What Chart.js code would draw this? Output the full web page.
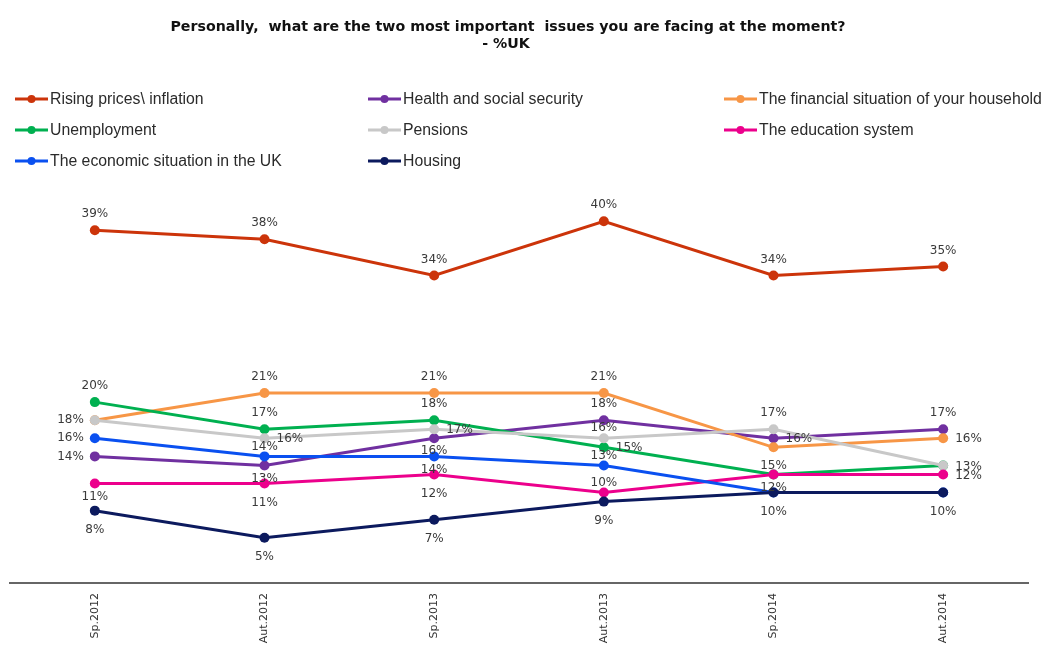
<!DOCTYPE html>
<html lang="en">
<head>
<meta charset="UTF-8">
<title>Most important issues - %UK</title>
<script src="https://cdn.jsdelivr.net/npm/chart.js"></script>
<style>
  html, body { margin: 0; padding: 0; background: #fff; overflow: hidden; }
  #issuesChart { display: block; }
</style>
</head>
<body>
<canvas id="issuesChart" width="1055" height="665"></canvas>
<script>
// Survey waves and % of UK respondents naming each issue
const waves = ['Sp.2012', 'Aut.2012', 'Sp.2013', 'Aut.2013', 'Sp.2014', 'Aut.2014'];

const risingPrices      = [39, 38, 34, 40, 34, 35];
const healthSocial      = [14, 13, 16, 18, 16, 17];
const householdFinances = [18, 21, 21, 21, 15, 16];
const unemployment      = [20, 17, 18, 15, 12, 13];
const pensions          = [18, 16, 17, 16, 17, 13];
const education         = [11, 11, 12, 10, 12, 12];
const ukEconomy         = [16, 14, 14, 13, 10, 10];
const housing           = [8, 5, 7, 9, 10, 10];

// where each value label sits:
// a = above, c = just above, b = below, d = just below, l = left, r = right, '' = none
const risingPricesLbl      = ['a', 'a', 'a', 'a', 'a', 'a'];
const healthSocialLbl      = ['l', 'd', 'd', 'a', 'r', 'a'];
const householdFinancesLbl = ['',  'a', 'a', 'a', 'b', 'r'];
const unemploymentLbl      = ['a', 'a', 'a', 'r', '',  ''];
const pensionsLbl          = ['l', 'r', 'r', 'c', 'a', 'r'];
const educationLbl         = ['d', 'b', 'b', 'c', 'd', 'r'];
const ukEconomyLbl         = ['l', 'c', 'd', 'c', '',  ''];
const housingLbl           = ['b', 'b', 'b', 'b', 'b', 'b'];

const series = [
  { label: 'Rising prices\\ inflation', data: risingPrices, color: '#cc340a', lbl: risingPricesLbl },
  { label: 'Health and social security', data: healthSocial, color: '#7030a0', lbl: healthSocialLbl },
  { label: 'The financial situation of your household', data: householdFinances, color: '#f79646', lbl: householdFinancesLbl },
  { label: 'Unemployment', data: unemployment, color: '#00b050', lbl: unemploymentLbl },
  { label: 'Pensions', data: pensions, color: '#c8c8c8', lbl: pensionsLbl },
  { label: 'The education system', data: education, color: '#ec008c', lbl: educationLbl },
  { label: 'The economic situation in the UK', data: ukEconomy, color: '#0a50f0', lbl: ukEconomyLbl },
  { label: 'Housing', data: housing, color: '#0c1a5e', lbl: housingLbl }
];

const labelFont = '12px "DejaVu Sans", Verdana, sans-serif';
const legendFont = '15.8px "Liberation Sans", Arial, sans-serif';
const titleFont = 'bold 14.2px "DejaVu Sans", Verdana, sans-serif';

// offsets for each label side
const sideShift = {
  a: [0, -16, 'center'],
  c: [0, -10, 'center'],
  b: [0, 19, 'center'],
  d: [0, 13, 'center'],
  l: [-11, 0, 'right'],
  r: [12, 1, 'left']
};

// title + three-column legend drawn straight onto the canvas
const headerPlugin = {
  id: 'header',
  afterDraw(chart) {
    const ctx = chart.ctx;
    ctx.save();
    ctx.fillStyle = '#111';
    ctx.font = titleFont;
    ctx.textAlign = 'center';
    ctx.textBaseline = 'middle';
    ctx.fillText('Personally,  what are the two most important  issues you are facing at the moment?', 508, 27);
    ctx.fillText('- %UK', 506, 44);

    const cols = [15, 368, 724];
    const rows = [99, 130, 161];
    ctx.font = legendFont;
    ctx.textAlign = 'left';
    chart.data.datasets.forEach((ds, i) => {
      const x = cols[i % 3];
      const y = rows[Math.floor(i / 3)];
      ctx.strokeStyle = ds.borderColor;
      ctx.lineWidth = 3;
      ctx.beginPath();
      ctx.moveTo(x, y);
      ctx.lineTo(x + 33, y);
      ctx.stroke();
      ctx.fillStyle = ds.borderColor;
      ctx.beginPath();
      ctx.arc(x + 16.5, y, 4, 0, Math.PI * 2);
      ctx.fill();
      ctx.fillStyle = '#2a2a2a';
      ctx.fillText(ds.label, x + 35, y + 1);
    });
    ctx.restore();
  }
};

// percentage labels next to each point
const valueLabels = {
  id: 'valueLabels',
  afterDatasetsDraw(chart) {
    const ctx = chart.ctx;
    ctx.save();
    ctx.font = labelFont;
    ctx.fillStyle = '#3a3a3a';
    ctx.textBaseline = 'middle';
    chart.data.datasets.forEach((ds, i) => {
      const meta = chart.getDatasetMeta(i);
      const sides = series[i].lbl;
      meta.data.forEach((pt, j) => {
        const shift = sideShift[sides[j]];
        if (!shift) return;
        ctx.textAlign = shift[2];
        ctx.fillText(ds.data[j] + '%', pt.x + shift[0], pt.y + shift[1]);
      });
    });
    ctx.restore();
  }
};

new Chart(document.getElementById('issuesChart').getContext('2d'), {
  type: 'line',
  data: {
    labels: waves,
    datasets: series.map((s, i) => ({
      label: s.label,
      data: s.data,
      borderColor: s.color,
      backgroundColor: s.color,
      pointBackgroundColor: s.color,
      pointBorderColor: s.color,
      borderWidth: 3,
      pointRadius: 5,
      pointBorderWidth: 0,
      tension: 0,
      fill: false,
      order: -i   // later series sit on top
    }))
  },
  options: {
    responsive: false,
    animation: false,
    events: [],
    layout: { padding: { top: 176, left: 10, right: 27, bottom: 0 } },
    plugins: {
      legend: { display: false },
      title: { display: false },
      tooltip: { enabled: false }
    },
    scales: {
      x: {
        offset: true,
        grid: { display: false, drawTicks: false },
        border: { color: '#666', width: 2 },
        ticks: {
          minRotation: 90,
          maxRotation: 90,
          padding: 10,
          color: '#333',
          font: { family: '"DejaVu Sans", Verdana, sans-serif', size: 11 }
        },
        afterFit(axis) { axis.height = 82; }
      },
      y: { display: false, min: 0, max: 45 }
    }
  },
  plugins: [valueLabels, headerPlugin]
});
</script>
</body>
</html>
